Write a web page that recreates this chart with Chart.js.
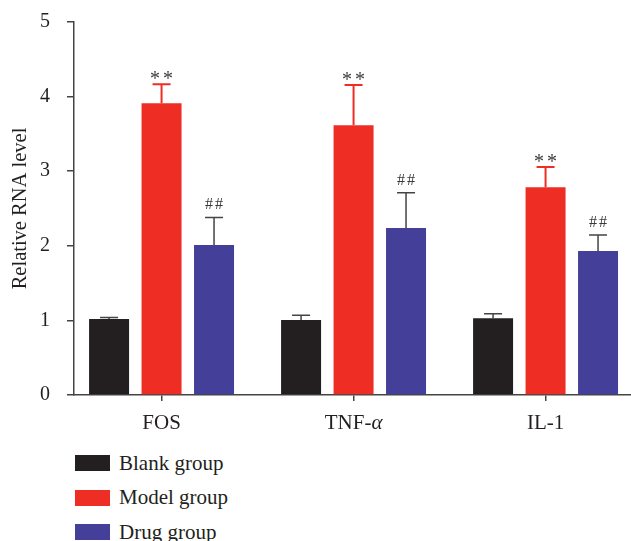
<!DOCTYPE html>
<html>
<head>
<meta charset="utf-8">
<script src="https://cdn.jsdelivr.net/npm/chart.js@4.4.1/dist/chart.umd.min.js"></script>
<style>
  html, body { margin: 0; padding: 0; background: #fff; overflow: hidden; }
  #wrap { position: relative; width: 631px; height: 541px; }
  #plot { position: absolute; left: 0; top: 0; width: 631px; height: 440px; }
  #legend { position: absolute; left: 75px; top: 446px; font-family: "Liberation Serif", serif; font-size: 21px; color: #231f20; }
  .item { display: flex; align-items: center; height: 34.5px; }
  .box { width: 35px; height: 16px; margin-right: 9px; }
</style>
</head>
<body>
<div id="wrap">
  <div id="plot"><canvas id="chart"></canvas></div>
  <div id="legend"></div>
</div>
<script>
/* data */
const categories = ["FOS", "TNF-α", "IL-1"];
const groups = ["Blank group", "Model group", "Drug group"];
const blank = [1.02, 1.005, 1.03];
const blankErr = [0.02, 0.065, 0.06];
const model = [3.91, 3.615, 2.785];
const modelErr = [0.255, 0.54, 0.27];
const drug = [2.01, 2.24, 1.93];
const drugErr = [0.37, 0.47, 0.215];
const modelMarks = ["**", "**", "**"];
const drugMarks = ["##", "##", "##"];
const yTicks = [0, 1, 2, 3, 4, 5];

const ink = "#231f20";
const serif = "'Liberation Serif', 'Times New Roman', serif";
const colors = ["#231f20", "#ee2d24", "#443f98"];
const errColors = ["#444", "#ee2d24", "#444"];
const errWidths = [1.5, 2, 1.5];

const series = [blank, model, drug];
const errors = [blankErr, modelErr, drugErr];
const marks = [null, modelMarks, drugMarks];

/* error bars + significance marks */
const errorBars = {
  id: "errorBars",
  afterDatasetsDraw(chart) {
    const ctx = chart.ctx;
    const y = chart.scales.y;
    ctx.save();
    series.forEach((vals, d) => {
      const meta = chart.getDatasetMeta(d);
      meta.data.forEach((bar, i) => {
        const top = y.getPixelForValue(vals[i] + errors[d][i]);
        ctx.strokeStyle = errColors[d];
        ctx.lineWidth = errWidths[d];
        ctx.beginPath();
        ctx.moveTo(bar.x, bar.y);
        ctx.lineTo(bar.x, top);
        ctx.moveTo(bar.x - 9, top);
        ctx.lineTo(bar.x + 9, top);
        ctx.stroke();

        if (marks[d]) {
          ctx.fillStyle = "#3a3a3a";
          ctx.textAlign = "center";
          ctx.textBaseline = "alphabetic";
          if (d === 1) {
            ctx.font = "20px " + serif;
            ctx.letterSpacing = "3px";
            ctx.fillText(marks[d][i], bar.x + 1.5, top + 1);
          } else {
            ctx.font = "16px " + serif;
            ctx.letterSpacing = "2px";
            ctx.fillText(marks[d][i], bar.x + 1, top - 8);
          }
        }
      });
    });
    ctx.restore();
  }
};

/* category labels, greek letters in italic */
const catLabels = {
  id: "catLabels",
  afterDraw(chart) {
    const ctx = chart.ctx;
    const x = chart.scales.x;
    ctx.save();
    ctx.fillStyle = ink;
    ctx.textBaseline = "alphabetic";
    ctx.textAlign = "left";
    categories.forEach((c, i) => {
      const parts = c.split(/([α-ω])/).filter(p => p);
      const fonts = parts.map(p => (/[α-ω]/.test(p) ? "italic " : "") + "21px " + serif);
      let w = 0;
      parts.forEach((p, k) => { ctx.font = fonts[k]; w += ctx.measureText(p).width; });
      let px = x.getPixelForValue(i) - w / 2;
      parts.forEach((p, k) => {
        ctx.font = fonts[k];
        ctx.fillText(p, px, 429);
        px += ctx.measureText(p).width;
      });
    });
    ctx.restore();
  }
};

new Chart(document.getElementById("chart"), {
  type: "bar",
  data: {
    datasets: groups.map((g, d) => ({
      label: g,
      data: series[d].map((v, i) => ({ x: i, y: v })),
      backgroundColor: colors[d],
      borderWidth: 0
    }))
  },
  options: {
    responsive: true,
    maintainAspectRatio: false,
    animation: false,
    categoryPercentage: 0.82,
    barPercentage: 0.762,
    layout: { padding: { top: 22, right: 0, left: 0, bottom: 0 } },
    plugins: { legend: { display: false }, tooltip: { enabled: false } },
    scales: {
      x: {
        type: "linear",
        min: -0.456,
        max: 2.445,
        offset: false,
        afterBuildTicks: s => { s.ticks = categories.map((c, i) => ({ value: i })); },
        afterFit: s => { s.height = 45; s.paddingLeft = 0; s.paddingRight = 0; },
        ticks: { display: false },
        grid: { drawOnChartArea: false, offset: false, tickLength: 6, color: "#444", lineWidth: 1.5 },
        border: { color: "#444", width: 1.5 }
      },
      y: {
        min: 0,
        max: 5,
        afterBuildTicks: s => { s.ticks = yTicks.map(v => ({ value: v })); },
        afterFit: s => { s.width = 74; s.paddingTop = 0; s.paddingBottom = 0; },
        ticks: {
          font: { family: serif, size: 20 },
          color: ink,
          padding: 17
        },
        grid: { drawOnChartArea: false, tickLength: 7, color: "#444", lineWidth: 1.5 },
        border: { color: "#444", width: 1.5 },
        title: {
          display: true,
          text: "Relative RNA level",
          font: { family: serif, size: 20.5 },
          color: ink,
          padding: { top: 8, bottom: 0 }
        }
      }
    }
  },
  plugins: [errorBars, catLabels]
});

/* legend */
const legend = document.getElementById("legend");
groups.forEach((g, d) => {
  const row = document.createElement("div");
  row.className = "item";
  row.innerHTML = `<span class="box" style="background:${colors[d]}"></span><span>${g}</span>`;
  legend.appendChild(row);
});
</script>
</body>
</html>
